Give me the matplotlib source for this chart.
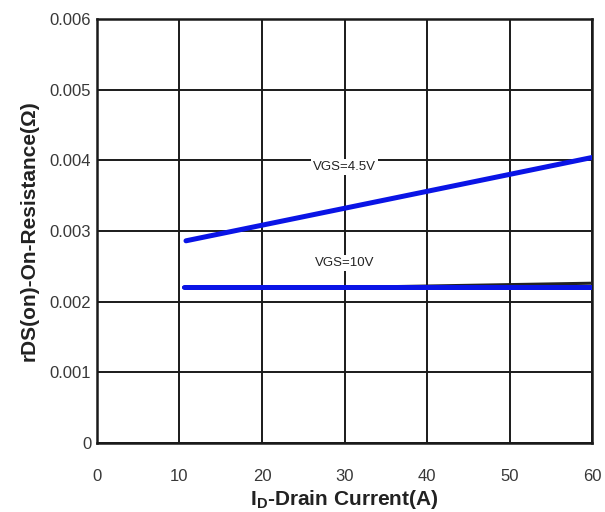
import matplotlib.pyplot as plt

plt.rcParams['font.family'] = ['Liberation Sans', 'DejaVu Sans']
plt.rcParams['mathtext.fontset'] = 'custom'
plt.rcParams['mathtext.rm'] = 'Liberation Sans:bold'

# traced curves (A, ohm)
id_45 = [10.8, 60]
rds_45 = [0.00286, 0.00404]
id_10 = [10.5, 60]
rds_10 = [0.00220, 0.00220]
# original black curve under the 10V trace
id_10_orig = [10.5, 30, 60]
rds_10_orig = [0.00220, 0.00220, 0.00226]

xticks = [0, 10, 20, 30, 40, 50, 60]
yticks = [0, 0.001, 0.002, 0.003, 0.004, 0.005, 0.006]
ylabels = ['0', '0.001', '0.002', '0.003', '0.004', '0.005', '0.006']

fig = plt.figure(figsize=(6.05, 5.12), dpi=100)
ax = fig.add_axes([0.160, 0.135, 0.819, 0.828])

ax.set_xlim(0, 60)
ax.set_ylim(0, 0.006)
ax.set_xticks(xticks)
ax.set_yticks(yticks)
ax.set_yticklabels(ylabels)
ax.tick_params(length=0, labelsize=12, labelcolor='#383838')
ax.tick_params(axis='x', pad=19)
ax.tick_params(axis='y', pad=4)
ax.grid(True, color='#1a1a1a', lw=1.4)
ax.set_axisbelow(True)
for s in ax.spines.values():
    s.set_color('#1a1a1a')
    s.set_linewidth(1.8)

ax.plot(id_10_orig, rds_10_orig, color='#222222', lw=2.2, solid_capstyle='round', zorder=3)
ax.plot(id_45, rds_45, color='#222222', lw=2.2, solid_capstyle='round', zorder=3)
ax.plot(id_45, rds_45, color='#0a14e6', lw=3.6, solid_capstyle='round', zorder=4)
ax.plot(id_10, rds_10, color='#0a14e6', lw=3.6, solid_capstyle='round', zorder=4)

ax.text(30, 0.0039, 'VGS=4.5V', fontsize=9.5, ha='center', va='center', color='#222222',
        bbox=dict(facecolor='white', edgecolor='none', pad=1.5), zorder=5)
ax.text(30, 0.00255, 'VGS=10V', fontsize=9.5, ha='center', va='center', color='#222222',
        bbox=dict(facecolor='white', edgecolor='none', pad=1.5), zorder=5)

ax.set_xlabel(r'I$_\mathrm{D}$-Drain Current(A)', fontsize=15, fontweight='bold',
              color='#222222', labelpad=3)
ax.set_ylabel('rDS(on)-On-Resistance(Ω)', fontsize=15, fontweight='bold',
              color='#222222', labelpad=8)

fig.savefig('out.png', dpi=100)
